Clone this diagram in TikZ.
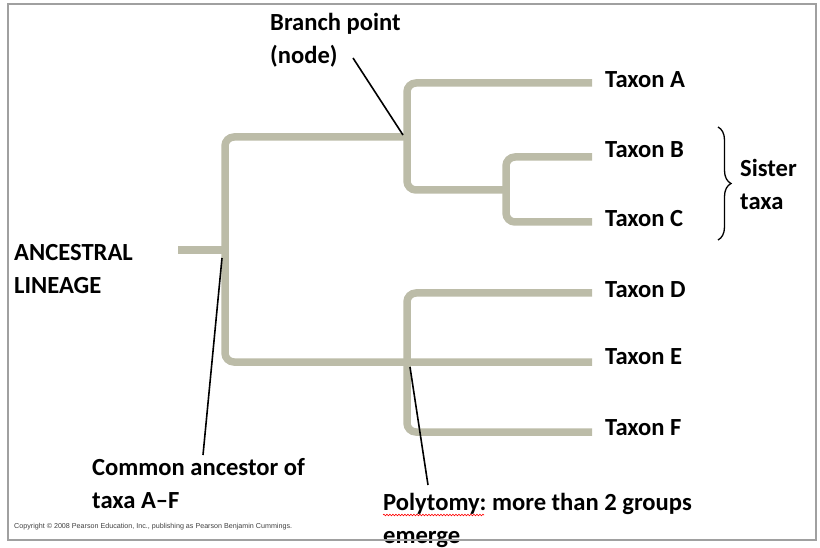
\documentclass[tikz,border=0pt]{standalone}
\usepackage{fontspec}
\setmainfont{Carlito}
\newfontfamily\copyfont{Liberation Sans}
\usetikzlibrary{decorations.pathreplacing,decorations.pathmorphing}
\definecolor{branch}{HTML}{BCBCA8}
\definecolor{framegray}{HTML}{A0A0A0}
\frenchspacing
\begin{document}
\begin{tikzpicture}[x=1pt,y=-1pt,
  branchline/.style={draw=branch,line width=7.5pt,rounded corners=9pt},
  lbl/.style={font=\bfseries\fontsize{24.6}{33}\selectfont,inner sep=0pt,anchor=west,align=left},
  pointer/.style={draw=black,line width=1.6pt},
  squiggle/.style={draw=red,line width=0.6pt,decorate,decoration={snake,amplitude=0.8pt,segment length=3pt}},
  bracestyle/.style={draw=black,line width=1.3pt,decorate,decoration={brace,amplitude=13pt}}]
\useasboundingbox (0,0) rectangle (820,548);

% tree coordinates
\coordinate (root) at (178,250);
\coordinate (n0) at (225,250);
\coordinate (n1) at (407,137);
\coordinate (n2) at (506,190);
\coordinate (n3) at (407,362);
\coordinate (tA) at (592,83);
\coordinate (tB) at (592,157);
\coordinate (tC) at (592,222);
\coordinate (tD) at (592,293);
\coordinate (tE) at (592,362);
\coordinate (tF) at (592,432);

% branches
\draw[branchline] (root) -- (n0);
\draw[branchline] (n1) -- (225,137) -- (225,362) -- (tE);
\draw[branchline] (tA) -- (407,83) -- (407,190) -- (n2);
\draw[branchline] (tB) -- (506,157) -- (506,222) -- (tC);
\draw[branchline] (tD) -- (407,293) -- (407,432) -- (tF);

% taxon labels
\node[lbl] (lA) at (605,80) {Taxon A};
\node[lbl] (lB) at (605,150) {Taxon B};
\node[lbl] (lC) at (605,219) {Taxon C};
\node[lbl] (lD) at (605,290) {Taxon D};
\node[lbl] (lE) at (605,357) {Taxon E};
\node[lbl] (lF) at (605,428) {Taxon F};

% other labels
\node[lbl] (bp) at (270,40) {Branch point\\(node)};
\node[lbl] (anc) at (14,269) {ANCESTRAL\\LINEAGE};
\node[lbl] (ca) at (92,484) {Common ancestor of\\taxa A–F};
\node[lbl] (sis) at (740,184) {Sister\\taxa};
\node[lbl] (poly) at (383,520) {Polytomy: more than 2 groups\\emerge};

% pointers
\coordinate (bpT) at (353,58);
\coordinate (bpH) at (403,135);
\coordinate (caT) at (203,455);
\coordinate (caH) at (222,258);
\coordinate (poT) at (428,485);
\coordinate (poH) at (410,367);
\draw[pointer] (bpT) -- (bpH);
\draw[pointer] (caT) -- (caH);
\draw[pointer] (poT) -- (poH);

% sister brace
\coordinate (brTop) at (718,127);
\coordinate (brBot) at (718,240);
\draw[bracestyle] (brTop) -- (brBot);

% spell-check squiggle
\coordinate (sqA) at (383,515);
\coordinate (sqB) at (484,515);
\draw[squiggle] (sqA) -- (sqB);

% copyright
\node[font=\copyfont\fontsize{7.15}{8}\selectfont,text=black!75,anchor=west,inner sep=0pt] (copy) at (14,527)
  {Copyright © 2008 Pearson Education, Inc., publishing as Pearson Benjamin Cummings.};

% frame
\draw[draw=framegray,line width=1.5pt] (8,4) rectangle (816,540);
\end{tikzpicture}
\end{document}
